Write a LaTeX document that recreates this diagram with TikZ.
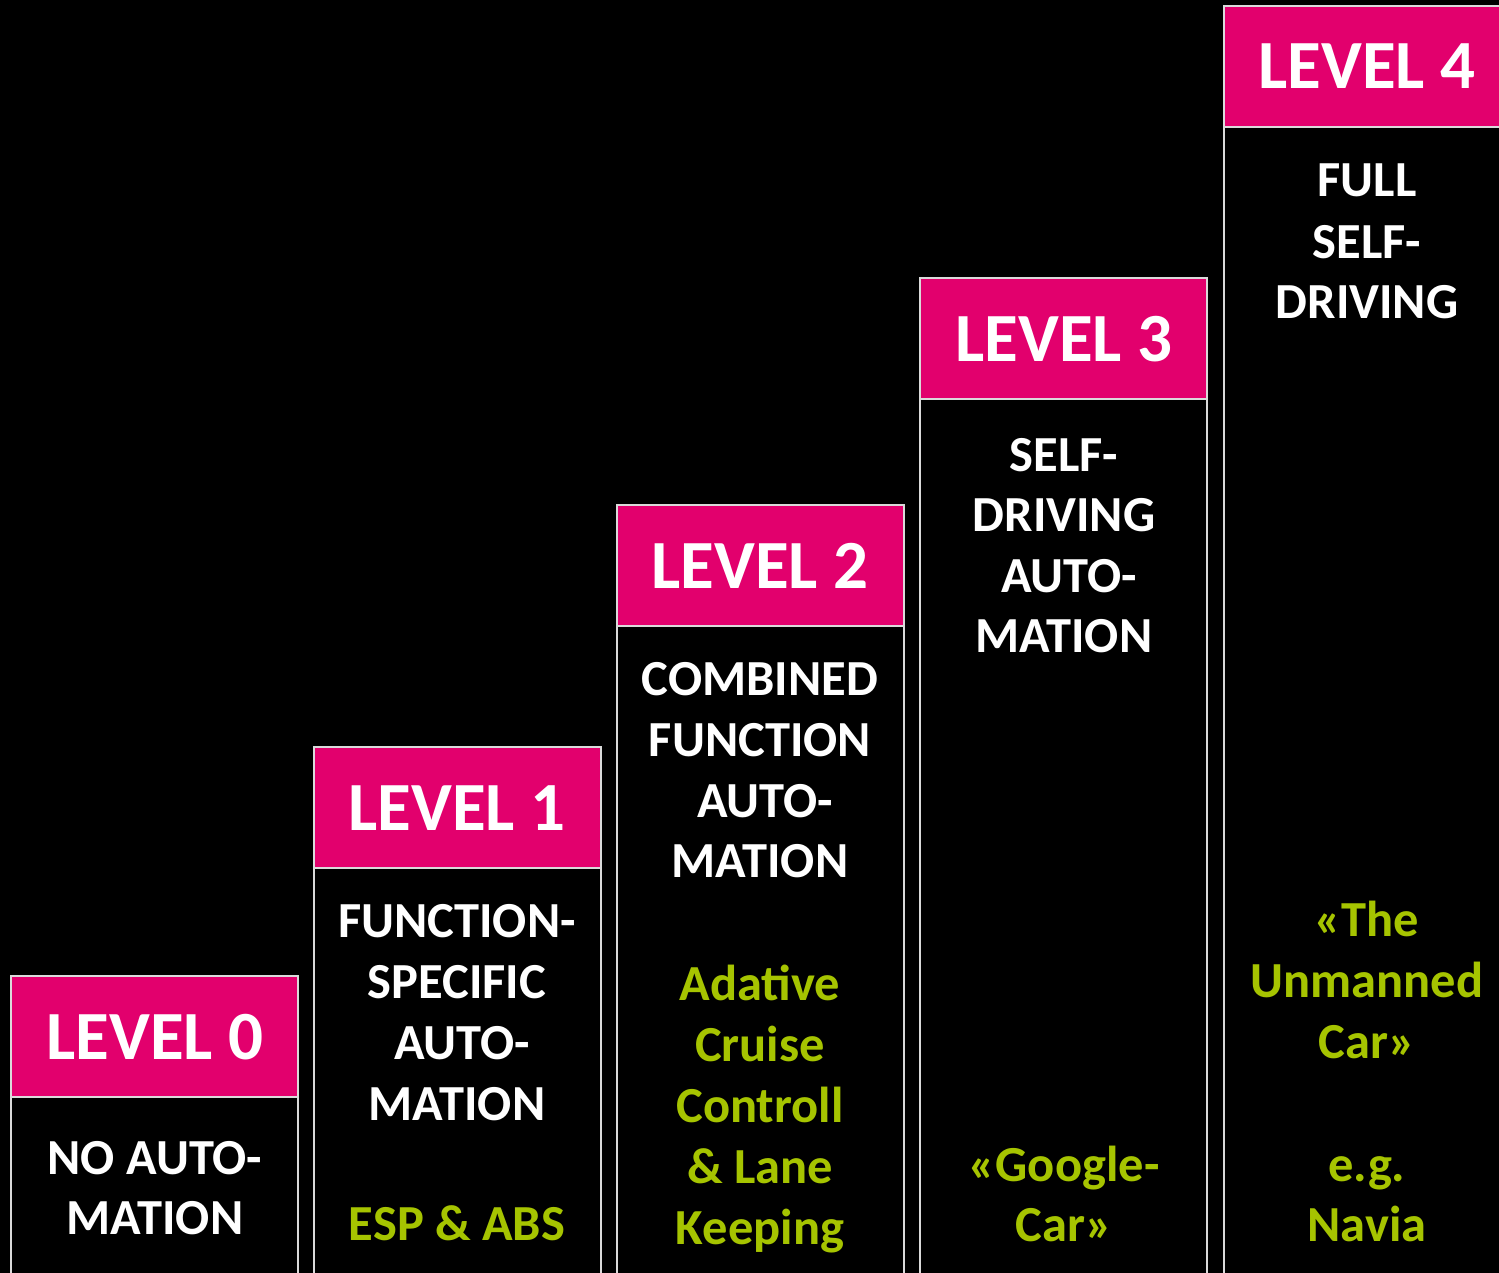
\documentclass[tikz,border=0pt]{standalone}
\usepackage{fontspec}
\setmainfont{Carlito}
\definecolor{lvlpink}{HTML}{E2006D}
\definecolor{lvlgreen}{HTML}{A6C400}
\definecolor{lvlline}{HTML}{DADADA}
\begin{document}
\begin{tikzpicture}[x=1pt,y=-1pt,
  headbox/.style={fill=lvlpink,draw=lvlline,line width=1.6pt},
  bodybox/.style={fill=black,draw=lvlline,line width=1.6pt},
  headtxt/.style={anchor=base,text=white,inner sep=0pt,font=\fontsize{69}{69}\selectfont\bfseries},
  bodytxt/.style={anchor=base,text=white,inner sep=0pt,font=\fontsize{50.5}{50.5}\selectfont\bfseries},
  greentxt/.style={anchor=base,text=lvlgreen,inner sep=0pt,font=\fontsize{50.5}{50.5}\selectfont\bfseries}]
\useasboundingbox (0,0) rectangle (1499,1273);
\fill[black] (0,0) rectangle (1499,1273);
\clip (0,0) rectangle (1499,1273);
% boxes
\foreach \i/\x/\y in {0/11/976,1/314/747,2/617/505,3/920/278,4/1224/6}{
  \draw[bodybox] (\x,\y+121) rectangle (\x+287,1290);
  \draw[headbox] (\x,\y) rectangle (\x+287,\y+121);
}
% headers
\foreach \i/\x/\b in {0/155/1059,1/457/830,2/760/588,3/1064/361,4/1367/89}{
  \node[headtxt] (h\i) at (\x,\b) {LEVEL \i};
}
% column 0
\node[bodytxt] (c0a) at (155,1174) {NO AUTO-};
\node[bodytxt] (c0b) at (155,1234) {MATION};
% column 1
\node[bodytxt] (c1a) at (457,937) {FUNCTION-};
\node[bodytxt] (c1b) at (457,998) {SPECIFIC};
\node[bodytxt] (c1c) at (462,1059) {AUTO-};
\node[bodytxt] (c1d) at (457,1120) {MATION};
\node[greentxt] (c1g) at (457,1240) {ESP \& ABS};
% column 2
\node[bodytxt] (c2a) at (760,695) {COMBINED};
\node[bodytxt] (c2b) at (760,756) {FUNCTION};
\node[bodytxt] (c2c) at (765,817) {AUTO-};
\node[bodytxt] (c2d) at (760,877) {MATION};
\node[greentxt] (c2e) at (760,1000) {Adative};
\node[greentxt] (c2f) at (760,1061) {Cruise};
\node[greentxt] (c2g) at (760,1122) {Controll};
\node[greentxt] (c2h) at (760,1183) {\& Lane};
\node[greentxt] (c2i) at (760,1244) {Keeping};
% column 3
\node[bodytxt] (c3a) at (1064,471) {SELF-};
\node[bodytxt] (c3b) at (1064,531) {DRIVING};
\node[bodytxt] (c3c) at (1069,592) {AUTO-};
\node[bodytxt] (c3d) at (1064,652) {MATION};
\node[greentxt] (c3e) at (1064,1181) {«Google-};
\node[greentxt] (c3f) at (1064,1241) {Car»};
% column 4
\node[bodytxt] (c4a) at (1367,197) {FULL};
\node[bodytxt] (c4b) at (1367,259) {SELF-};
\node[bodytxt] (c4c) at (1367,319) {DRIVING};
\node[greentxt] (c4d) at (1367,936) {«The};
\node[greentxt] (c4e) at (1367,997) {Unmanned};
\node[greentxt] (c4f) at (1367,1058) {Car»};
\node[greentxt] (c4g) at (1367,1181) {e.g.};
\node[greentxt] (c4h) at (1367,1241) {Navia};
\end{tikzpicture}
\end{document}
